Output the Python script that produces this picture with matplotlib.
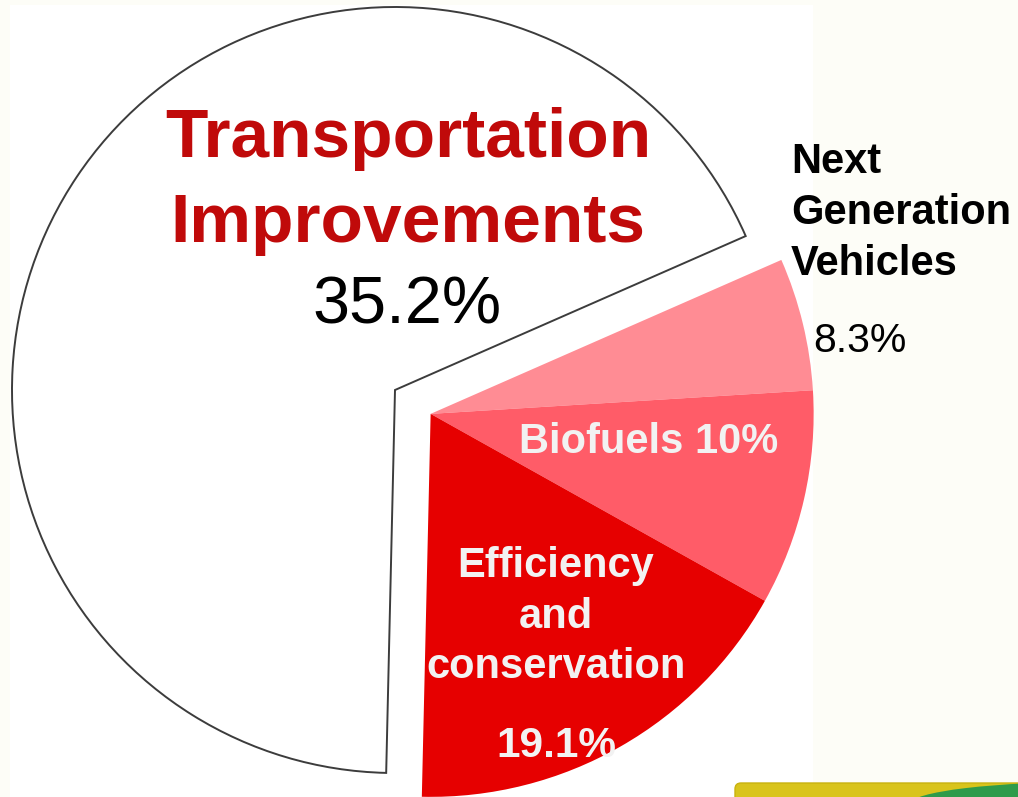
import numpy as np
import matplotlib
matplotlib.use("Agg")
import matplotlib.pyplot as plt
from matplotlib.patches import Rectangle, FancyBboxPatch, Ellipse

# ---- data -------------------------------------------------------------
categories = ["Next Generation Vehicles", "Biofuels", "Efficiency and conservation",
              "Transportation Improvements"]
label_values = [8.3, 10.0, 19.1, 35.2]          # percentages printed on the chart
# share of the drawn circle each slice occupies (%)
slice_shares = [5.6, 9.1, 17.25, 68.05]
slice_colors = ["#FF8C94", "#FF5C68", "#E60000", "#FFFFFF"]

W, H = 1018, 797
fig = plt.figure(figsize=(W / 100, H / 100), dpi=100, facecolor="#FDFDF7")
ax = fig.add_axes([0, 0, 1, 1])
ax.set_facecolor("#FDFDF7")

# white panel behind the chart
ax.add_patch(Rectangle((10, 0), 803, H - 5, facecolor="white", edgecolor="none", zorder=0))

R = 383
center = (395, H - 390)
wedges, _ = ax.pie(slice_shares, colors=slice_colors, startangle=23.7, counterclock=False,
                   radius=R, center=center, normalize=True,
                   wedgeprops=dict(linewidth=0, antialiased=True))

# white slice outline
wedges[3].set_edgecolor("#3C3C3C")
wedges[3].set_linewidth(1.4)

# explode the red group as a block along its mid angle
theta_start = 23.7
theta_end = theta_start - sum(slice_shares[:3]) / 100 * 360
mid = np.deg2rad((theta_start + theta_end) / 2)
explode = 0.112 * R
for w in wedges[:3]:
    w.set_center((center[0] + explode * np.cos(mid), center[1] + explode * np.sin(mid)))

ax.set_xlim(0, W)
ax.set_ylim(0, H)
ax.set_aspect("equal")
ax.axis("off")

FAM = ["Liberation Sans", "DejaVu Sans"]

def txt(x, y_img, s, size, color, weight="bold", ha="center"):
    ax.text(x, H - y_img, s, fontsize=size, color=color, fontweight=weight,
            ha=ha, va="baseline", family=FAM, zorder=5)

red_txt = "#C00A0A"
txt(408, 157, "Transportation", 50, red_txt)
txt(408, 242, "Improvements", 50, red_txt)
txt(407, 323, f"{label_values[3]}%", 48, "black", weight="normal")

txt(791, 173, "Next", 30, "black", ha="left")
txt(791, 224, "Generation", 30, "black", ha="left")
txt(791, 275, "Vehicles", 30, "black", ha="left")
txt(813, 352, f"{label_values[0]}%", 29.5, "black", weight="normal", ha="left")

wt = "#F2F2F2"
txt(649, 453, f"Biofuels {label_values[1]:.0f}%", 30, wt)
txt(556, 577, "Efficiency", 30, wt)
txt(556, 628, "and", 30, wt)
txt(556, 678, "conservation", 30, wt)
txt(556, 757, f"{label_values[2]}%", 30.5, wt)

# clipped picture strip at the bottom right
yb = FancyBboxPatch((735, H - 830), 320, 47, boxstyle="round,pad=0,rounding_size=6",
                    facecolor="#D9C41C", edgecolor="#C9B210", linewidth=1, zorder=3)
ax.add_patch(yb)
gr = Ellipse((1100, H - 804), 380, 45, facecolor="#2E9B4B", edgecolor="none", zorder=4)
ax.add_patch(gr)
gr.set_clip_path(yb)

fig.savefig("out.png", dpi=100, facecolor=fig.get_facecolor())
